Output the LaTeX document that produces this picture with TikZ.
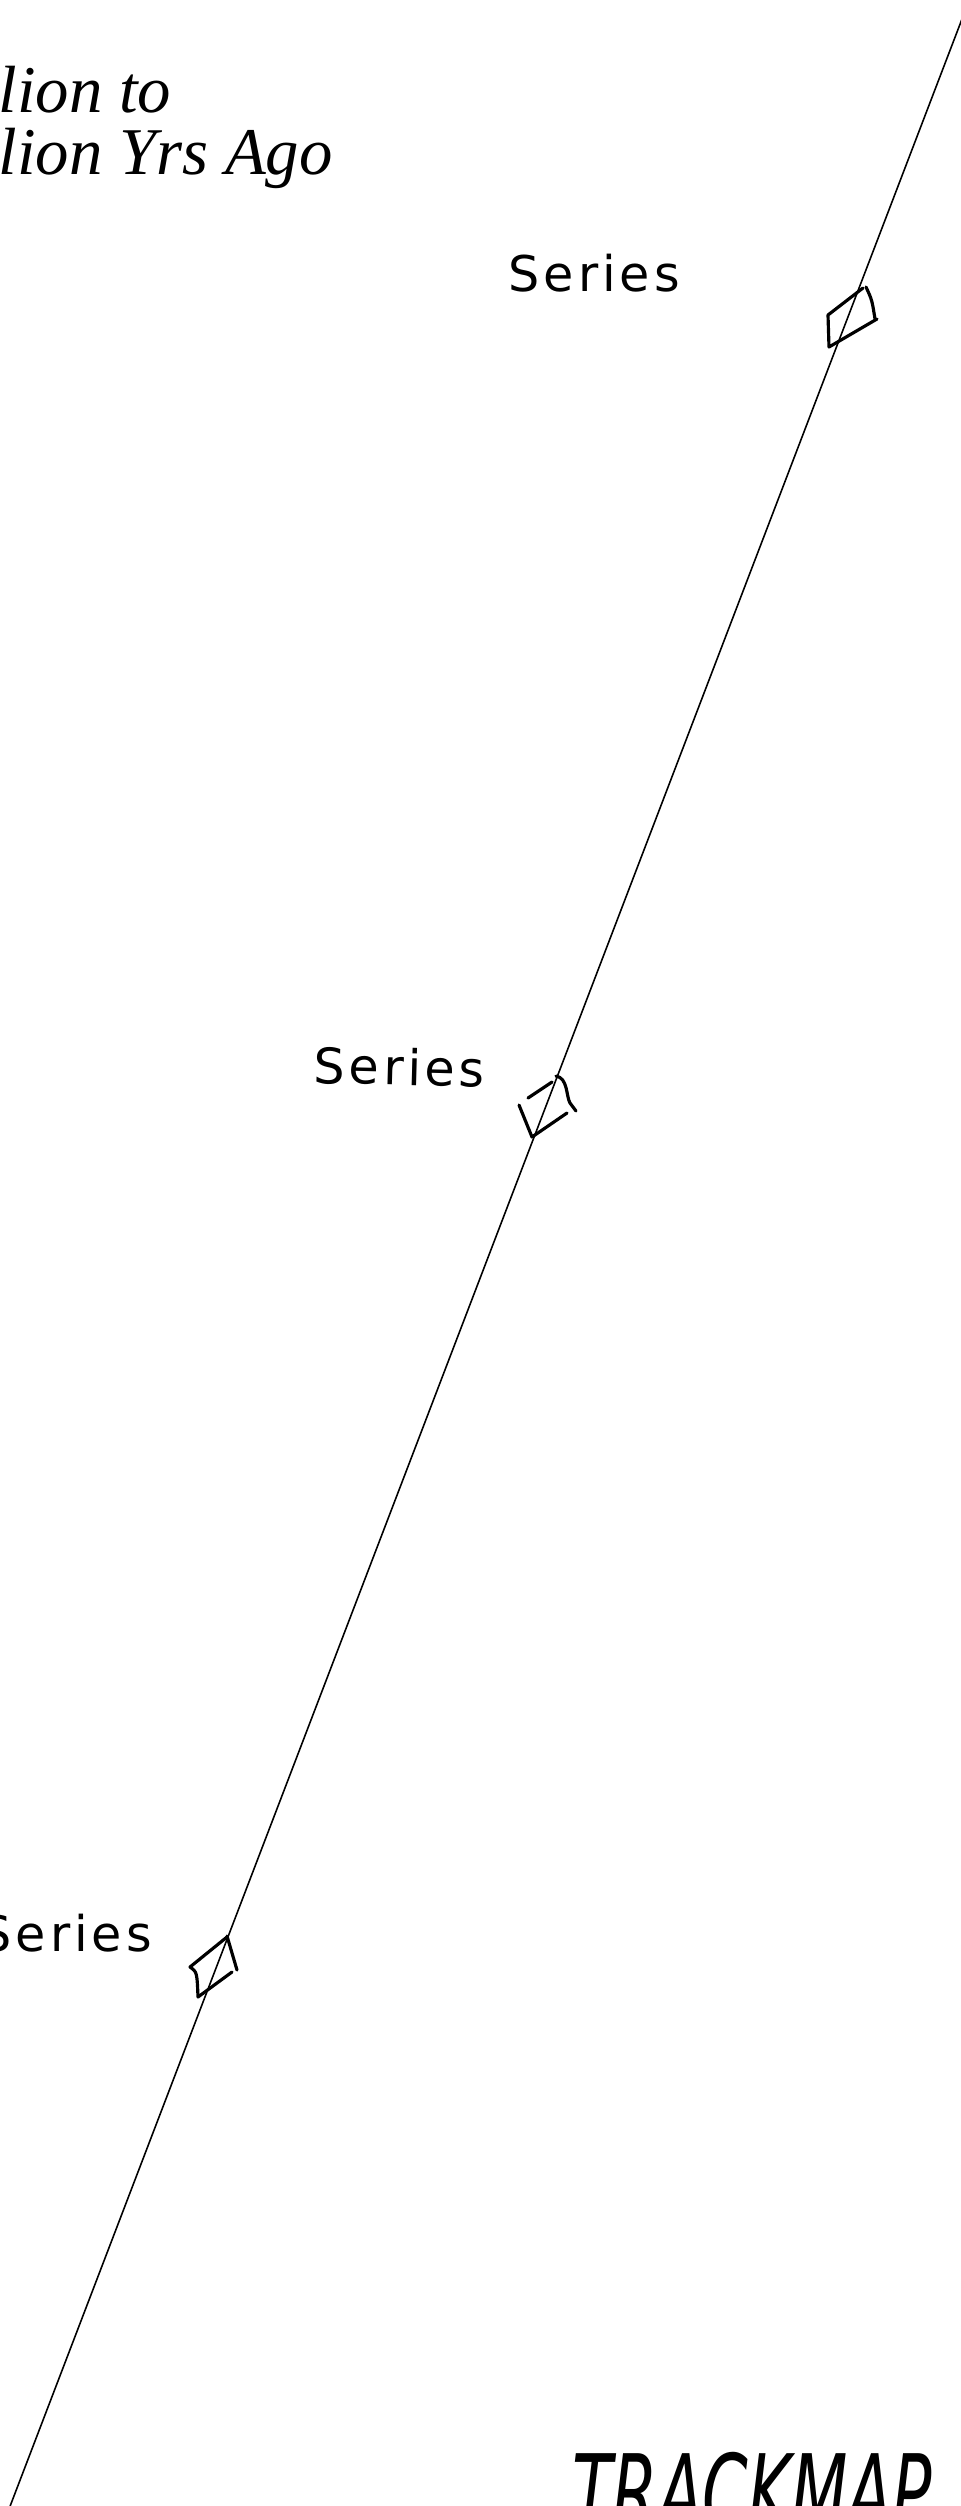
\documentclass[tikz,border=0pt]{standalone}
\usepackage{fontspec}
\setmainfont{Liberation Serif}
\newfontfamily\seriesfont[LetterSpace=8]{DejaVu Sans}
\newfontfamily\mapfont{DejaVu Sans}
\begin{document}
\begin{tikzpicture}[x=0.1mm,y=-0.1mm,
  trackline/.style={line width=0.45pt},
  switchmark/.style={line width=0.9pt, line cap=round, line join=round},
  serieslabel/.style={inner sep=0pt, anchor=base west, font=\seriesfont\fontsize{14}{16}\selectfont},
  titlelabel/.style={inner sep=0pt, anchor=base west, font=\itshape\fontsize{19}{23}\selectfont}]
\useasboundingbox (0,0) rectangle (961,2506);
\fill[white] (0,0) rectangle (961,2506);
% track
\coordinate (ttop) at (962,19);
\coordinate (tbot) at (9,2509);
\draw[trackline] (ttop) -- (tbot);
% switch marks
\draw[switchmark] (863,288) -- (828,315) -- (829,347) -- (877,319);
\draw[switchmark] (866,287) .. controls (872,300) .. (875,319);
\draw[switchmark] (552,1082) -- (528,1098);
\draw[switchmark] (519,1105) -- (532,1137) -- (567,1113);
\draw[switchmark] (556,1076) .. controls (568,1078) and (566,1096) .. (570,1103) -- (576,1111);
\draw[switchmark] (227,1937) -- (190,1967) .. controls (197,1972) .. (198,1997) -- (232,1972);
\draw[switchmark] (227,1936) -- (237,1970);
% labels
\node[serieslabel] (s1) at (508,291) {Series};
\node[serieslabel, rotate=-1.5] (s2) at (313,1083) {Series};
\node[serieslabel] (s3) at (-20,1951) {Series};
\node[titlelabel] (t1) at (-2,112) {lion to};
\node[titlelabel] (t2) at (-2,174) {lion Yrs Ago};
\node[inner sep=0pt, anchor=base west, font=\mapfont\itshape\fontsize{30}{34}\selectfont] (map) at (572,2530) {\scalebox{0.62}[1]{TRACKMAP}};
\end{tikzpicture}
\end{document}
